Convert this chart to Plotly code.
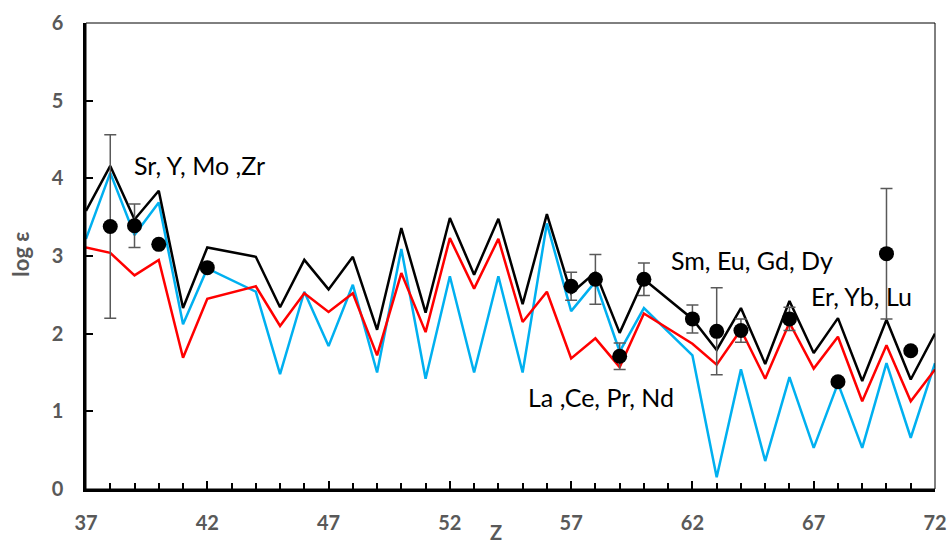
import plotly.graph_objects as go

# Atomic number grid for the model curves (Tc and Pm have no entries)
z_model = [37, 38, 39, 40, 41, 42, 44, 45, 46, 47, 48, 49, 50, 51, 52, 53, 54,
           55, 56, 57, 58, 59, 60, 62, 63, 64, 65, 66, 67, 68, 69, 70, 71, 72]

model_black = [3.58, 4.16, 3.47, 3.84, 2.33, 3.11, 2.99, 2.34, 2.95, 2.57, 2.99,
               2.05, 3.36, 2.27, 3.49, 2.76, 3.48, 2.38, 3.54, 2.52, 2.79, 2.01,
               2.70, 2.19, 1.79, 2.33, 1.61, 2.42, 1.75, 2.20, 1.39, 2.18, 1.41, 2.00]

model_blue = [3.22, 4.07, 3.27, 3.69, 2.12, 2.84, 2.54, 1.48, 2.54, 1.84, 2.63,
              1.50, 3.09, 1.42, 2.74, 1.50, 2.74, 1.50, 3.42, 2.29, 2.67, 1.77,
              2.33, 1.72, 0.15, 1.54, 0.36, 1.44, 0.53, 1.36, 0.53, 1.62, 0.66, 1.62]

model_red = [3.11, 3.04, 2.75, 2.95, 1.69, 2.45, 2.61, 2.10, 2.52, 2.28, 2.52,
             1.72, 2.78, 2.02, 3.23, 2.58, 3.22, 2.15, 2.54, 1.68, 1.94, 1.57,
             2.26, 1.87, 1.60, 2.05, 1.42, 2.14, 1.55, 1.96, 1.13, 1.85, 1.13, 1.54]

# Observed abundances with uncertainties
z_obs = [38, 39, 40, 42, 57, 58, 59, 60, 62, 63, 64, 66, 68, 70, 71]
log_eps_obs = [3.38, 3.39, 3.15, 2.85, 2.61, 2.70, 1.71, 2.70, 2.19, 2.03,
               2.04, 2.19, 1.38, 3.03, 1.78]
log_eps_err = [1.18, 0.28, 0.0, 0.0, 0.18, 0.32, 0.17, 0.21, 0.18, 0.56,
               0.15, 0.15, 0.0, 0.84, 0.0]

x_ticks = [37, 42, 47, 52, 57, 62, 67, 72]
y_ticks = [0, 1, 2, 3, 4, 5, 6]

group_labels = ["Sr, Y, Mo ,Zr", "La ,Ce, Pr, Nd", "Sm, Eu, Gd, Dy", "Er, Yb, Lu"]
label_pos = [(41.66, 4.17), (58.23, 1.18), (64.45, 2.95), (68.99, 2.48)]

FONT = "Lato"
GRAY = "#595959"

fig = go.Figure()

fig.add_trace(go.Scatter(x=z_model, y=model_blue, mode="lines",
                         line=dict(color="#00B0F0", width=2.5), showlegend=False))
fig.add_trace(go.Scatter(x=z_model, y=model_red, mode="lines",
                         line=dict(color="#FF0000", width=2.5), showlegend=False))
fig.add_trace(go.Scatter(x=z_model, y=model_black, mode="lines",
                         line=dict(color="#000000", width=2.5), showlegend=False))
fig.add_trace(go.Scatter(
    x=z_obs, y=log_eps_obs, mode="markers",
    marker=dict(color="#000000", size=15),
    error_y=dict(type="data", array=log_eps_err, visible=True,
                 color="#595959", thickness=1.5, width=6),
    showlegend=False))

for text, (lx, ly) in zip(group_labels, label_pos):
    fig.add_annotation(x=lx, y=ly, text=text, showarrow=False,
                       xanchor="center", yanchor="middle",
                       font=dict(family=FONT, size=25, color="#000000"))

# axis titles
fig.add_annotation(xref="paper", yref="paper", x=0.483, y=-0.092, text="<b>Z</b>",
                   showarrow=False, xanchor="center", yanchor="middle",
                   font=dict(family=FONT, size=20, color=GRAY))
fig.add_annotation(xref="paper", yref="paper", x=-0.0766, y=0.505, text="<b>log ε</b>",
                   showarrow=False, xanchor="center", yanchor="middle", textangle=-90,
                   font=dict(family=FONT, size=22, color=GRAY))

# thin frame around the plotting area
fig.add_shape(type="rect", xref="paper", yref="paper", x0=0, y0=0, x1=1, y1=1,
              line=dict(color="#000000", width=1))

fig.update_layout(
    width=948, height=545,
    margin=dict(l=86, r=13, t=23, b=56, autoexpand=False),
    paper_bgcolor="white", plot_bgcolor="white",
    font=dict(family=FONT),
    xaxis=dict(range=[37, 72], tickvals=x_ticks, ticks="inside", ticklen=8,
               tickwidth=2, tickcolor="#000000", automargin=False,
               minor=dict(dtick=1, ticks="inside", ticklen=6, tickwidth=2,
                          tickcolor="#000000", showgrid=False),
               showline=True, linecolor="#000000", linewidth=2.5,
               showgrid=False, zeroline=False, ticklabelstandoff=14,
               tickfont=dict(family=FONT, size=20, color=GRAY, weight="bold")),
    yaxis=dict(range=[0, 6], tickvals=y_ticks, ticks="inside", ticklen=7,
               tickwidth=2, tickcolor="#000000", automargin=False,
               showline=True, linecolor="#000000", linewidth=2.5,
               showgrid=False, zeroline=False, ticklabelstandoff=16,
               tickfont=dict(family=FONT, size=20, color=GRAY, weight="bold")),
)

fig.write_html("out.html")
